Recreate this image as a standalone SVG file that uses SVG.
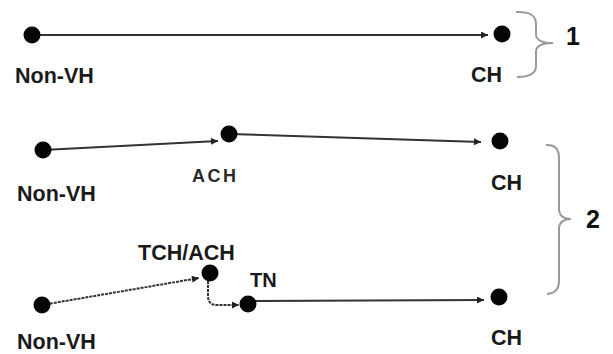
<svg xmlns="http://www.w3.org/2000/svg" width="613" height="354" viewBox="0 0 613 354">
  <defs>
    <marker id="arr" viewBox="0 0 10 10" refX="10" refY="5" markerWidth="8" markerHeight="7" markerUnits="userSpaceOnUse" orient="auto">
      <path d="M0,0 L10,5 L0,10 z" fill="#222"/>
    </marker>
    <style>
      .dot { fill: #050505; }
      .lbl { font-family: "Liberation Sans", Arial, sans-serif; font-weight: bold; fill: #1a1a1a; font-size: 21.5px; }
      .lite { font-family: "Liberation Sans", Arial, sans-serif; font-weight: bold; fill: #2a2a2a; font-size: 18px; letter-spacing: 2.5px; }
      .num { font-family: "Liberation Sans", Arial, sans-serif; font-weight: bold; fill: #111; font-size: 25px; }
      .edge { fill: none; stroke: #333; stroke-width: 2; marker-end: url(#arr); }
      .dash { fill: none; stroke: #333; stroke-width: 2; stroke-dasharray: 3 1; marker-end: url(#arr); }
      .brace { fill: none; stroke: #9a9a9a; stroke-width: 2; }
    </style>
  </defs>
  <rect width="613" height="354" fill="#fff"/>

  <g id="connectors">
    <path class="edge" d="M32,35 L488,35"/>
    <path class="edge" d="M43,150 L218,141"/>
    <path class="edge" d="M229,134 L481,142"/>
    <path class="dash" d="M42,305 L199,278"/>
    <path class="dash" d="M208,281 L208,296 Q208,305 217,305 L239,305"/>
    <path class="edge" d="M248,301 L484,300"/>
  </g>

  <g id="row1-nonvh">
    <circle class="dot" cx="32" cy="35" r="8.5"/>
    <text class="lbl" x="15" y="83">Non-VH</text>
  </g>
  <g id="row1-ch">
    <circle class="dot" cx="502" cy="34" r="8.5"/>
    <text class="lbl" x="471" y="82">CH</text>
  </g>

  <g id="row2-nonvh">
    <circle class="dot" cx="43" cy="150" r="8.5"/>
    <text class="lbl" x="17" y="201">Non-VH</text>
  </g>
  <g id="row2-ach">
    <circle class="dot" cx="229" cy="134" r="8.5"/>
    <text class="lite" x="192" y="182">ACH</text>
  </g>
  <g id="row2-ch">
    <circle class="dot" cx="500" cy="141" r="8.5"/>
    <text class="lbl" x="491" y="190">CH</text>
  </g>

  <g id="row3-nonvh">
    <circle class="dot" cx="42" cy="305" r="8.5"/>
    <text class="lbl" x="17" y="349">Non-VH</text>
  </g>
  <g id="row3-tchach">
    <circle class="dot" cx="210" cy="273" r="8.5"/>
    <text class="lbl" x="138" y="260">TCH/ACH</text>
  </g>
  <g id="row3-tn">
    <circle class="dot" cx="248" cy="304" r="8.5"/>
    <text class="lbl" x="250" y="287" style="font-size:20px">TN</text>
  </g>
  <g id="row3-ch">
    <circle class="dot" cx="499" cy="297" r="8.5"/>
    <text class="lbl" x="491" y="345">CH</text>
  </g>

  <g id="brace1">
    <path class="brace" d="M516,12 Q536,11 536,24 L536,35 Q537,43 553,43 Q537,43 536,51 L536,66 Q536,77 517,77"/>
    <text class="num" x="566" y="45">1</text>
  </g>
  <g id="brace2">
    <path class="brace" d="M546,145 Q559,144 559,158 L559,210 Q560,219 571,219 Q560,219 559,228 L559,281 Q559,293 547,294"/>
    <text class="num" x="586" y="228">2</text>
  </g>
</svg>
